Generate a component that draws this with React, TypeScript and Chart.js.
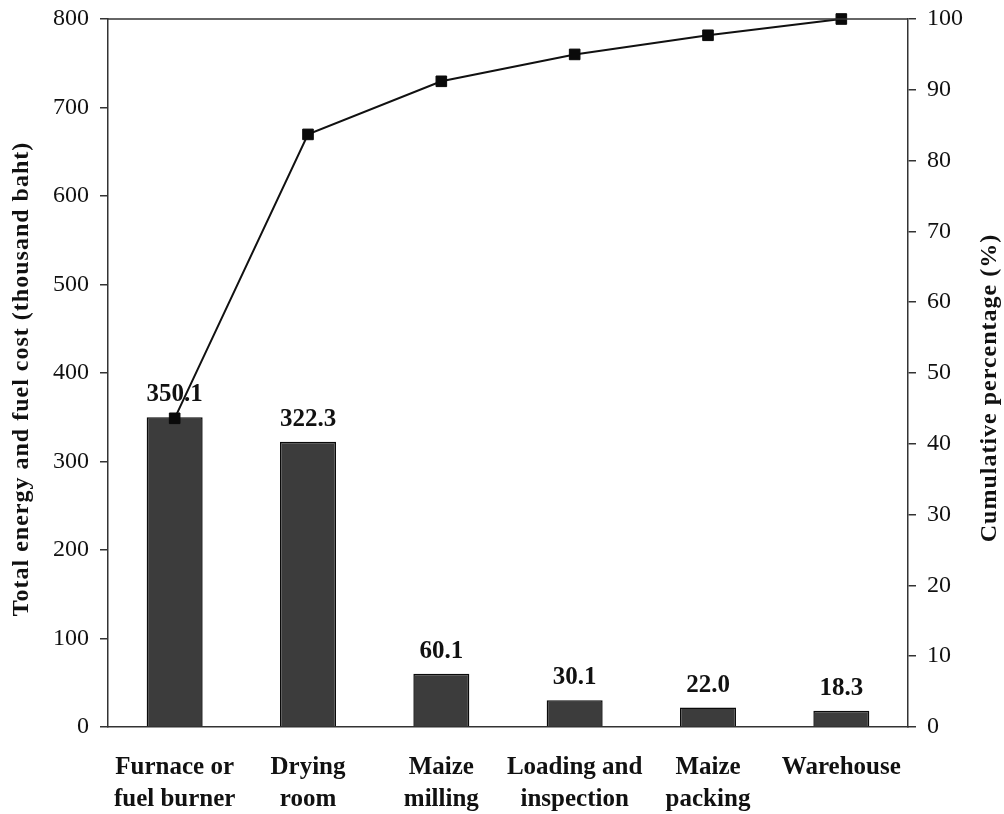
import React, { useEffect, useRef } from "react";
import { Chart, registerables } from "chart.js";

Chart.register(...registerables);

const categories: string[][] = [
  ["Furnace or", "fuel burner"],
  ["Drying", "room"],
  ["Maize", "milling"],
  ["Loading and", "inspection"],
  ["Maize", "packing"],
  ["Warehouse"],
];
const costValues: number[] = [350.1, 322.3, 60.1, 30.1, 22.0, 18.3];
const cumulativePercent: number[] = [43.6, 83.7, 91.2, 95.0, 97.7, 100];
const costAxisRange = { min: 0, max: 800, step: 100 };
const percentAxisRange = { min: 0, max: 100, step: 10 };
const leftTitle = "Total energy and fuel cost (thousand baht)";
const rightTitle = "Cumulative percentage (%)";

const FONT = "'Liberation Serif', 'Times New Roman', serif";
const TEXT = "#111";
const AXIS = "#333";

const decorPlugin = {
  id: "decor",
  beforeDatasetsDraw(chart: any) {
    const { ctx } = chart;
    const meta = chart.getDatasetMeta(0);
    ctx.save();
    ctx.fillStyle = TEXT;
    ctx.font = `bold 25px ${FONT}`;
    ctx.textAlign = "center";
    ctx.textBaseline = "alphabetic";
    meta.data.forEach((el: any, i: number) => {
      ctx.fillText(costValues[i].toFixed(1), el.x, el.y - 16);
    });
    ctx.restore();
  },
  afterDraw(chart: any) {
    const { ctx, chartArea } = chart;
    ctx.save();
    ctx.strokeStyle = AXIS;
    ctx.lineWidth = 1.5;
    ctx.beginPath();
    ctx.moveTo(chartArea.left, chartArea.top);
    ctx.lineTo(chartArea.right, chartArea.top);
    ctx.stroke();

    ctx.fillStyle = TEXT;
    ctx.font = `bold 24px ${FONT}`;
    (ctx as any).letterSpacing = "1px";
    ctx.textAlign = "center";
    ctx.textBaseline = "middle";
    const midY = (chartArea.top + chartArea.bottom) / 2;
    ctx.save();
    ctx.translate(22, midY + 6);
    ctx.rotate(-Math.PI / 2);
    ctx.fillText(leftTitle, 0, 0);
    ctx.restore();
    ctx.save();
    ctx.translate(990, midY + 15);
    ctx.rotate(-Math.PI / 2);
    ctx.fillText(rightTitle, 0, 0);
    ctx.restore();
    ctx.restore();
  },
};

export default function App() {
  const ref = useRef<HTMLCanvasElement | null>(null);

  useEffect(() => {
    if (!ref.current) return;
    const chart = new Chart(ref.current, {
      type: "bar",
      data: {
        labels: categories as any,
        datasets: [
          {
            type: "bar",
            data: costValues,
            yAxisID: "y",
            backgroundColor: "#3c3c3c",
            borderColor: "#0a0a0a",
            borderWidth: 1.5,
            categoryPercentage: 1,
            barPercentage: 0.42,
            order: 1,
          } as any,
          {
            type: "line",
            data: cumulativePercent,
            yAxisID: "y1",
            borderColor: "#111",
            borderWidth: 2,
            pointStyle: "rect",
            pointRadius: 7.5,
            pointBackgroundColor: "#0a0a0a",
            pointBorderColor: "#0a0a0a",
            pointBorderWidth: 1,
            tension: 0,
            clip: false,
            order: 0,
          } as any,
        ],
      },
      options: {
        responsive: false,
        animation: false,
        events: [],
        layout: { padding: { top: 19, left: 0, right: 0, bottom: 0 } },
        plugins: {
          legend: { display: false },
          tooltip: { enabled: false },
        },
        scales: {
          x: {
            grid: { display: false },
            border: { display: true, color: AXIS, width: 1.5 },
            ticks: {
              color: TEXT,
              font: { family: FONT, size: 25, weight: "bold", lineHeight: 1.28 },
              maxRotation: 0,
              autoSkip: false,
              padding: 17,
            },
            afterFit: (s: any) => {
              s.height = 87;
            },
          },
          y: {
            position: "left",
            min: costAxisRange.min,
            max: costAxisRange.max,
            grid: {
              display: true,
              drawOnChartArea: false,
              drawTicks: true,
              tickLength: 8,
              color: AXIS,
              lineWidth: 1.5,
            },
            border: { display: true, color: AXIS, width: 1.5 },
            ticks: {
              stepSize: costAxisRange.step,
              color: TEXT,
              font: { family: FONT, size: 24, lineHeight: 0.6 },
              padding: 11,
            },
            afterFit: (s: any) => {
              s.width = 108;
            },
          },
          y1: {
            position: "right",
            min: percentAxisRange.min,
            max: percentAxisRange.max,
            grid: {
              display: true,
              drawOnChartArea: false,
              drawTicks: true,
              tickLength: 8,
              color: AXIS,
              lineWidth: 1.5,
            },
            border: { display: true, color: AXIS, width: 1.5 },
            ticks: {
              stepSize: percentAxisRange.step,
              color: TEXT,
              font: { family: FONT, size: 24, lineHeight: 0.6 },
              padding: 11,
            },
            afterFit: (s: any) => {
              s.width = 96;
            },
          },
        },
      },
      plugins: [decorPlugin],
    });
    return () => chart.destroy();
  }, []);

  return (
    <div style={{ position: "absolute", left: 0, top: 0, width: 1004, height: 814, background: "#fff" }}>
      <canvas ref={ref} width={1004} height={814} style={{ display: "block" }} />
    </div>
  );
}
